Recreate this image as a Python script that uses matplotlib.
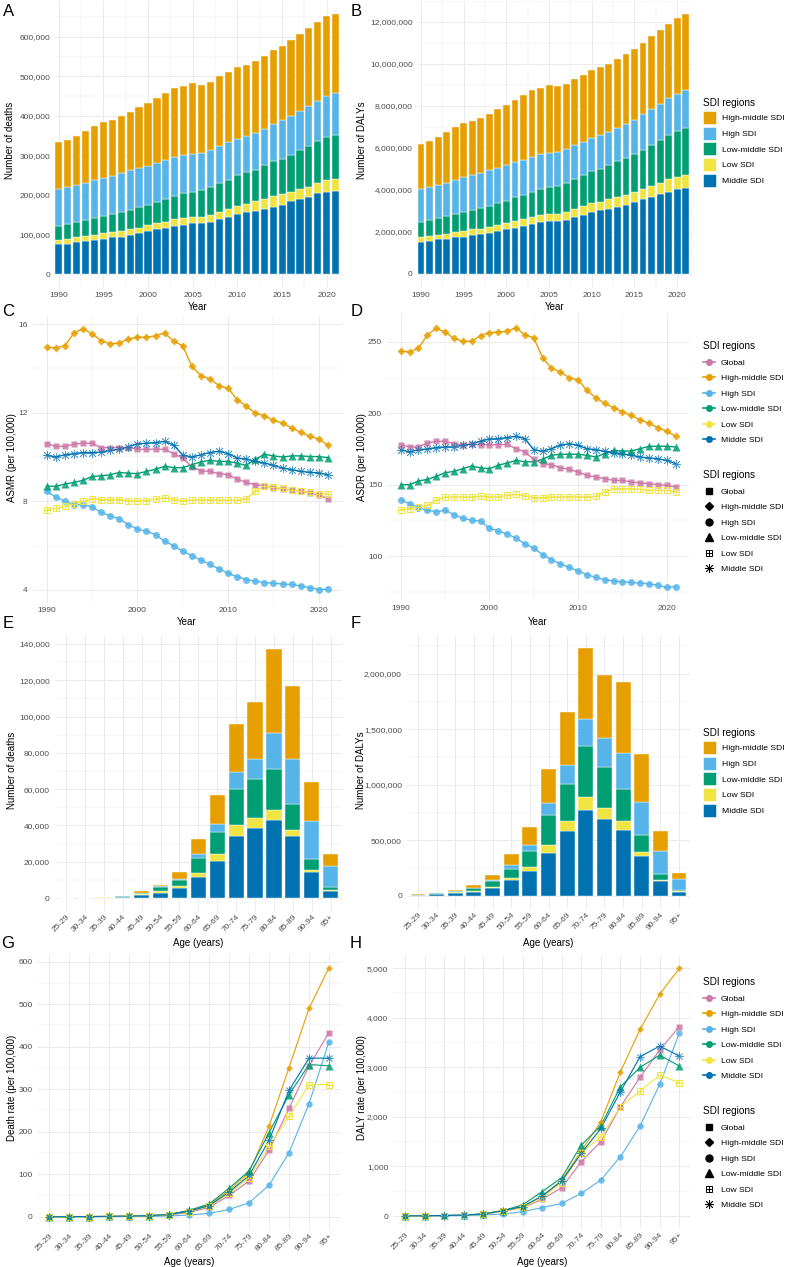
import numpy as np
import matplotlib.pyplot as plt
from matplotlib.lines import Line2D
from matplotlib.patches import Patch
from matplotlib.ticker import FuncFormatter, MultipleLocator

plt.rcParams['font.family'] = ['Liberation Sans', 'DejaVu Sans']

# ---------------- data ----------------
years = np.arange(1990, 2022)
ages = ['25-29', '30-34', '35-39', '40-44', '45-49', '50-54', '55-59', '60-64',
        '65-69', '70-74', '75-79', '80-84', '85-89', '90-94', '95+']

# A: deaths by year (thousands)
deaths_middle = [75, 77, 80, 83, 86, 89, 93, 94, 99, 103, 109, 113, 116, 121, 125, 128,
                 128, 132, 139, 145, 152, 157, 160, 165, 170, 175, 184, 190, 194, 204, 208, 211]
deaths_low = [11, 11, 13, 13, 13, 14, 13, 15, 14, 14, 14, 15, 16, 18, 18, 17,
              17, 18, 19, 19, 20, 21, 24, 25, 27, 27, 24, 25, 27, 27, 29, 29]
deaths_lowmid = [35, 38, 38, 41, 42, 44, 45, 48, 49, 52, 51, 54, 57, 58, 61, 63,
                 67, 69, 72, 75, 78, 79, 79, 86, 89, 90, 94, 99, 103, 105, 110, 111]
deaths_high = [94, 93, 94, 94, 96, 97, 98, 98, 100, 99, 100, 100, 100, 100, 98, 97,
               94, 94, 94, 95, 91, 92, 93, 91, 93, 97, 98, 98, 102, 102, 103, 106]
deaths_highmid = [118, 119, 124, 131, 138, 140, 141, 144, 147, 154, 158, 163, 169, 175, 175, 179,
                  173, 173, 176, 177, 184, 181, 182, 186, 187, 189, 192, 196, 197, 201, 202, 201]

# B: DALYs by year (millions)
dalys_middle = [1.52, 1.55, 1.65, 1.68, 1.74, 1.77, 1.84, 1.90, 1.97, 2.06, 2.16, 2.20, 2.27, 2.36, 2.47, 2.50,
                2.50, 2.57, 2.69, 2.81, 2.95, 3.03, 3.09, 3.19, 3.28, 3.42, 3.55, 3.65, 3.80, 3.91, 4.04, 4.10]
dalys_low = [0.22, 0.24, 0.20, 0.22, 0.24, 0.27, 0.28, 0.26, 0.28, 0.25, 0.26, 0.32, 0.33, 0.33, 0.34, 0.35,
             0.38, 0.38, 0.40, 0.42, 0.43, 0.42, 0.46, 0.47, 0.49, 0.48, 0.51, 0.55, 0.54, 0.59, 0.59, 0.61]
dalys_lowmid = [0.75, 0.78, 0.81, 0.86, 0.87, 0.91, 0.92, 0.98, 1.01, 1.05, 1.07, 1.13, 1.17, 1.21, 1.22, 1.27,
                1.32, 1.38, 1.43, 1.48, 1.52, 1.57, 1.63, 1.70, 1.76, 1.82, 1.84, 1.92, 2.03, 2.11, 2.17, 2.25]
dalys_high = [1.55, 1.57, 1.57, 1.57, 1.62, 1.65, 1.67, 1.65, 1.68, 1.70, 1.68, 1.66, 1.67, 1.69, 1.66, 1.65,
              1.62, 1.61, 1.60, 1.58, 1.58, 1.59, 1.59, 1.60, 1.63, 1.63, 1.71, 1.72, 1.74, 1.76, 1.79, 1.79]
dalys_highmid = [2.17, 2.17, 2.28, 2.44, 2.53, 2.58, 2.58, 2.64, 2.68, 2.78, 2.90, 2.99, 3.09, 3.19, 3.18, 3.25,
                 3.12, 3.13, 3.17, 3.19, 3.25, 3.26, 3.25, 3.29, 3.33, 3.38, 3.40, 3.48, 3.52, 3.55, 3.61, 3.64]

# C: ASMR
asmr_global = [10.6, 10.48, 10.48, 10.58, 10.62, 10.62, 10.42, 10.42, 10.42, 10.42, 10.35, 10.35, 10.35, 10.35, 10.15, 9.95,
               9.55, 9.38, 9.35, 9.25, 9.2, 9.0, 8.85, 8.75, 8.7, 8.62, 8.55, 8.5, 8.45, 8.38, 8.28, 8.12]
asmr_highmid = [14.95, 14.92, 15.02, 15.59, 15.79, 15.56, 15.25, 15.11, 15.14, 15.32, 15.41, 15.40, 15.47, 15.59, 15.22, 15.02,
                14.09, 13.67, 13.52, 13.22, 13.10, 12.59, 12.29, 11.98, 11.86, 11.65, 11.53, 11.31, 11.11, 10.93, 10.81, 10.53]
asmr_high = [8.45, 8.2, 8.0, 7.85, 7.85, 7.75, 7.5, 7.35, 7.2, 6.95, 6.75, 6.65, 6.5, 6.2, 6.0, 5.75,
             5.55, 5.35, 5.15, 4.95, 4.75, 4.6, 4.47, 4.4, 4.33, 4.3, 4.27, 4.25, 4.18, 4.1, 4.02, 4.03]
asmr_lowmid = [8.68, 8.68, 8.78, 8.85, 8.95, 9.12, 9.15, 9.2, 9.3, 9.27, 9.25, 9.35, 9.45, 9.58, 9.52, 9.52,
               9.65, 9.78, 9.85, 9.8, 9.8, 9.72, 9.62, 9.9, 10.12, 10.05, 10.0, 10.05, 10.05, 10.02, 10.02, 9.97]
asmr_low = [7.62, 7.68, 7.77, 7.9, 8.0, 8.12, 8.08, 8.08, 8.08, 8.02, 8.03, 8.03, 8.1, 8.15, 8.08, 8.03,
            8.05, 8.07, 8.07, 8.05, 8.05, 8.05, 8.12, 8.45, 8.68, 8.63, 8.58, 8.5, 8.45, 8.4, 8.35, 8.33]
asmr_middle = [10.08, 10.0, 10.1, 10.15, 10.2, 10.2, 10.22, 10.3, 10.35, 10.45, 10.6, 10.62, 10.65, 10.7, 10.54, 10.08,
               10.0, 10.1, 10.2, 10.26, 10.15, 9.95, 9.91, 9.8, 9.73, 9.62, 9.5, 9.43, 9.35, 9.31, 9.28, 9.2]

# D: ASDR
asdr_global = [178, 176.4, 176.4, 179.2, 180.4, 180.4, 178.7, 178, 178.3, 178, 178, 178, 178.3, 175.2, 173, 167.8,
               164.7, 164, 161.9, 160.7, 158.9, 156.5, 155.4, 154.2, 153, 153, 151.9, 151.2, 150.7, 150, 149.5, 148.4]
asdr_highmid = [243.5, 243, 245.5, 255, 259.5, 257, 252.5, 250.5, 250.5, 254.5, 256.5, 257, 257.5, 260, 255, 253,
                239, 231.5, 229, 225, 223.5, 216, 211, 207, 204, 201, 198.5, 195.5, 193, 190, 187.5, 184]
asdr_high = [139.5, 136.5, 134, 132, 131, 132, 129, 126.5, 125, 124.5, 119.5, 117.5, 115.5, 112.5, 108.5, 105.5,
             101, 97.5, 94.5, 92, 89.5, 87, 85, 83.5, 82.5, 82, 81.5, 81, 80.5, 79.5, 78, 78.5]
asdr_lowmid = [150, 150, 152.6, 153.7, 155.8, 158.4, 159.3, 161.2, 163.1, 161.7, 161.2, 163.6, 165.2, 167, 166, 166,
               167.8, 170.6, 171.3, 171.3, 171.3, 170.6, 169.4, 171.7, 174, 173.6, 173.6, 175.2, 176.9, 176.9, 176.9, 176.4]
asdr_low = [132.5, 133.2, 134.3, 135.5, 139, 141.4, 141.4, 141.4, 141.4, 142, 141.4, 141.4, 142.5, 143.2, 142.3, 140.9,
            140.9, 141.4, 141.4, 141.4, 141.4, 141.4, 141.8, 144.9, 147.2, 147.2, 147.2, 146.7, 146, 146, 146, 144.9]
asdr_middle = [174.5, 172.9, 174.5, 175, 176, 176.5, 176.5, 177.5, 178.5, 180.5, 182, 182.2, 183, 183.9, 182.2, 174.5,
               173.4, 175.2, 177.6, 178.7, 177.6, 175.2, 174.5, 173.4, 172.4, 171.7, 170.6, 169.4, 168.7, 168.2, 167, 164.7]

# E: deaths by age
age_deaths_middle = [20, 60, 250, 700, 1500, 3000, 5600, 11500, 20400, 34200, 38500, 43000, 34400, 14400, 3900]
age_deaths_low = [5, 10, 50, 100, 500, 900, 900, 2400, 3700, 5900, 5500, 5500, 3200, 1000, 400]
age_deaths_lowmid = [15, 40, 200, 300, 800, 2200, 3300, 8300, 12400, 20200, 21500, 22500, 14300, 6100, 1800]
age_deaths_high = [5, 15, 50, 50, 200, 600, 600, 2100, 4100, 9200, 11200, 19900, 24600, 20700, 11500]
age_deaths_highmid = [10, 30, 100, 200, 700, 700, 4000, 8300, 15900, 26500, 31300, 46500, 40100, 21500, 6500]

# F: DALYs by age (thousands)
age_dalys_middle = [6, 15, 30, 39, 68, 140, 229, 385, 586, 776, 692, 595, 364, 134, 36]
age_dalys_low = [4, 3, 3, 6, 12, 24, 36, 75, 91, 120, 99, 82, 36, 6, 6]
age_dalys_lowmid = [2, 6, 12, 23, 51, 83, 137, 270, 333, 451, 370, 288, 150, 59, 9]
age_dalys_high = [0.5, 1, 3, 6, 9, 36, 59, 106, 166, 247, 261, 322, 298, 203, 104]
age_dalys_highmid = [2.5, 5, 6, 21, 45, 92, 164, 307, 478, 640, 568, 637, 430, 187, 53]

# G: death rate by age
drate_global = [0.1, 0.2, 0.4, 0.7, 1.2, 2.0, 4.0, 10, 22, 50, 84, 157, 255, 355, 433]
drate_highmid = [0.1, 0.2, 0.4, 0.8, 1.4, 2.5, 5.5, 14, 28, 62, 104, 213, 351, 490, 586]
drate_high = [0.05, 0.1, 0.2, 0.3, 0.5, 0.9, 1.6, 4, 8, 17, 33, 74, 151, 266, 412]
drate_lowmid = [0.1, 0.2, 0.4, 0.8, 1.4, 2.5, 5.5, 15, 30, 67, 108, 198, 287, 358, 355]
drate_low = [0.1, 0.2, 0.4, 0.7, 1.2, 2.0, 4.5, 12, 25, 55, 92, 166, 236, 310, 311]
drate_middle = [0.1, 0.2, 0.4, 0.8, 1.4, 2.5, 5.0, 13, 26, 58, 97, 180, 297, 373, 373]

# H: DALY rate by age
dlrate_global = [3, 5, 9, 15, 38, 95, 165, 336, 571, 1095, 1499, 2204, 2796, 3347, 3817]
dlrate_highmid = [3, 5, 8, 15, 40, 107, 188, 390, 726, 1310, 1902, 2910, 3763, 4469, 4993]
dlrate_high = [2, 3, 5, 8, 20, 40, 87, 168, 255, 457, 726, 1196, 1815, 2655, 3683]
dlrate_lowmid = [4, 7, 12, 20, 45, 110, 222, 491, 773, 1431, 1821, 2608, 2997, 3246, 3024]
dlrate_low = [3, 5, 9, 15, 35, 95, 175, 370, 672, 1277, 1600, 2204, 2520, 2843, 2688]
dlrate_middle = [3, 6, 10, 17, 40, 105, 190, 403, 706, 1263, 1767, 2507, 3212, 3427, 3226]

# ---------------- style ----------------
colors = {'Global': '#CC79A7', 'High-middle SDI': '#E69F00', 'High SDI': '#56B4E9',
          'Low-middle SDI': '#009E73', 'Low SDI': '#F0E442', 'Middle SDI': '#0072B2'}
bar_order = ['Middle SDI', 'Low SDI', 'Low-middle SDI', 'High SDI', 'High-middle SDI']
line_order = ['Global', 'High-middle SDI', 'High SDI', 'Low-middle SDI', 'Low SDI', 'Middle SDI']
markers = {'Global': 's', 'High-middle SDI': 'D', 'High SDI': 'o',
           'Low-middle SDI': '^', 'Low SDI': 's', 'Middle SDI': (8, 2, 0)}
msize = {'Global': 1.0, 'High-middle SDI': 0.75, 'High SDI': 1.0,
         'Low-middle SDI': 1.1, 'Low SDI': 1.0, 'Middle SDI': 1.25}

GRID = '#EBEBEB'
TICK = '#4D4D4D'
W, H = 787, 1267
fig = plt.figure(figsize=(W / 100, H / 100), dpi=100)


def box(l, t, r, b):
    return [l / W, 1 - b / H, (r - l) / W, (b - t) / H]


def comma(v, pos):
    return f"{v:,.0f}"


def style(ax, ymaj, ymin, xmaj=None, xmin=None):
    ax.set_facecolor('white')
    for s in ax.spines.values():
        s.set_visible(False)
    ax.yaxis.set_major_locator(MultipleLocator(ymaj))
    ax.yaxis.set_minor_locator(MultipleLocator(ymin))
    if xmaj is not None:
        ax.xaxis.set_major_locator(MultipleLocator(xmaj))
        ax.xaxis.set_minor_locator(MultipleLocator(xmin))
    ax.grid(True, which='major', color=GRID, lw=0.7)
    ax.grid(True, which='minor', color=GRID, lw=0.35)
    ax.set_axisbelow(True)
    ax.tick_params(which='both', length=0, labelsize=6.0, labelcolor=TICK, pad=3.5)


def fig_text(x, y, s, **kw):
    fig.text(x / W, 1 - y / H, s, **kw)


def bars(ax, x, comps, scale):
    bottom = np.zeros(len(x))
    for name in bar_order:
        v = np.array(comps[name]) * scale
        ax.bar(x, v, bottom=bottom, width=0.8, color=colors[name],
               edgecolor='white', linewidth=0.3)
        bottom += v


def lines(ax, x, data, ms, lw):
    for name in line_order:
        c = colors[name]
        y = data[name]
        ax.plot(x, y, color=c, lw=lw, zorder=2)
        m = ms * msize[name]
        if name == 'Low SDI':
            ax.plot(x, y, ls='none', marker='s', ms=m, mfc='none', mec=c, mew=0.7, zorder=3)
            ax.plot(x, y, ls='none', marker='+', ms=m, mec=c, mew=0.7, zorder=3)
        elif name == 'Middle SDI':
            ax.plot(x, y, ls='none', marker=markers[name], ms=m, mec=c, mew=0.6, alpha=0.7, zorder=3)
        else:
            ax.plot(x, y, ls='none', marker=markers[name], ms=m, color=c, mec='none', alpha=0.85, zorder=3)


def bar_legend(y):
    handles = [Patch(facecolor=colors[n], edgecolor='white', linewidth=0.4) for n in bar_order[::-1]]
    fig.legend(handles, bar_order[::-1], title='SDI regions', loc='upper left',
               bbox_to_anchor=(703 / W, 1 - y / H), frameon=False, fontsize=6.1,
               title_fontsize=7.2, alignment='left', handlelength=1.55, handleheight=2.0,
               handletextpad=0.7, labelspacing=0.32, borderpad=0, borderaxespad=0)


def line_legends(y1, y2):
    h1 = [Line2D([], [], color=colors[n], lw=1.2, marker='o', ms=4) for n in line_order]
    fig.legend(h1, line_order, title='SDI regions', loc='upper left',
               bbox_to_anchor=(703 / W, 1 - y1 / H), frameon=False, fontsize=6.1,
               title_fontsize=7.2, alignment='left', handlelength=1.4,
               handletextpad=0.7, labelspacing=0.9, borderpad=0, borderaxespad=0)
    h2 = []
    for n in line_order:
        if n == 'Low SDI':
            h2.append((Line2D([], [], ls='none', marker='s', ms=5, mfc='none', mec='black', mew=0.7),
                       Line2D([], [], ls='none', marker='+', ms=5, mec='black', mew=0.7)))
        elif n == 'Middle SDI':
            h2.append(Line2D([], [], ls='none', marker=markers[n], ms=6.5, mec='black', mew=0.6))
        else:
            h2.append(Line2D([], [], ls='none', marker=markers[n], ms=5 * msize[n], color='black'))
    fig.legend(h2, line_order, title='SDI regions', loc='upper left',
               bbox_to_anchor=(703 / W, 1 - y2 / H), frameon=False, fontsize=6.1,
               title_fontsize=7.2, alignment='left', handlelength=1.4,
               handletextpad=0.7, labelspacing=0.9, borderpad=0, borderaxespad=0)


# ---------------- A ----------------
axA = fig.add_axes(box(55, 1, 342, 287))
bars(axA, years, {'Middle SDI': deaths_middle, 'Low SDI': deaths_low, 'Low-middle SDI': deaths_lowmid,
                  'High SDI': deaths_high, 'High-middle SDI': deaths_highmid}, 1000)
style(axA, 100000, 50000, 5, 2.5)
axA.set_xlim(1989.6, 2021.7)
axA.set_ylim(-32900, 691000)
axA.yaxis.set_major_formatter(FuncFormatter(comma))
fig_text(10, 140, 'Number of deaths', rotation=90, ha='center', va='center', fontsize=7)
fig_text(198, 307, 'Year', ha='center', va='center', fontsize=7)

# ---------------- B ----------------
axB = fig.add_axes(box(417.6, 1, 691.7, 287))
bars(axB, years, {'Middle SDI': dalys_middle, 'Low SDI': dalys_low, 'Low-middle SDI': dalys_lowmid,
                  'High SDI': dalys_high, 'High-middle SDI': dalys_highmid}, 1e6)
style(axB, 2e6, 1e6, 5, 2.5)
axB.set_xlim(1989.6, 2021.7)
axB.set_ylim(-620000, 13000000)
axB.yaxis.set_major_formatter(FuncFormatter(comma))
fig_text(362, 140, 'Number of DALYs', rotation=90, ha='center', va='center', fontsize=7)
fig_text(555, 307, 'Year', ha='center', va='center', fontsize=7)
bar_legend(98)

# ---------------- C ----------------
axC = fig.add_axes(box(32.6, 315.6, 342, 602.6))
lines(axC, years, {'Global': asmr_global, 'High-middle SDI': asmr_highmid, 'High SDI': asmr_high,
                   'Low-middle SDI': asmr_lowmid, 'Low SDI': asmr_low, 'Middle SDI': asmr_middle}, 5, 1.0)
style(axC, 4, 2, 10, 5)
axC.set_xlim(1988.45, 2022.55)
axC.set_ylim(3.43, 16.38)
fig_text(12, 458, 'ASMR (per 100,000)', rotation=90, ha='center', va='center', fontsize=7)
fig_text(187, 622, 'Year', ha='center', va='center', fontsize=7)

# ---------------- D ----------------
axD = fig.add_axes(box(387, 314, 689.3, 600.4))
lines(axD, years, {'Global': asdr_global, 'High-middle SDI': asdr_highmid, 'High SDI': asdr_high,
                   'Low-middle SDI': asdr_lowmid, 'Low SDI': asdr_low, 'Middle SDI': asdr_middle}, 5, 1.0)
style(axD, 50, 25, 10, 5)
axD.set_xlim(1988.45, 2022.55)
axD.set_ylim(68.9, 269.6)
fig_text(362, 457, 'ASDR (per 100,000)', rotation=90, ha='center', va='center', fontsize=7)
fig_text(538, 622, 'Year', ha='center', va='center', fontsize=7)
line_legends(341, 470)

xa = np.arange(len(ages))

# ---------------- E ----------------
axE = fig.add_axes(box(54.7, 636.2, 342, 910.5))
bars(axE, xa, {'Middle SDI': age_deaths_middle, 'Low SDI': age_deaths_low, 'Low-middle SDI': age_deaths_lowmid,
               'High SDI': age_deaths_high, 'High-middle SDI': age_deaths_highmid}, 1)
style(axE, 20000, 10000)
axE.set_xticks(xa)
axE.set_xticklabels(ages, rotation=45, ha='right', rotation_mode='anchor')
axE.set_xlim(-0.6, 14.6)
axE.set_ylim(-6870, 144270)
axE.yaxis.set_major_formatter(FuncFormatter(comma))
fig_text(12, 770, 'Number of deaths', rotation=90, ha='center', va='center', fontsize=7)
fig_text(198, 943, 'Age (years)', ha='center', va='center', fontsize=7)

# ---------------- F ----------------
axF = fig.add_axes(box(406.8, 635.6, 690.2, 908.4))
bars(axF, xa, {'Middle SDI': age_dalys_middle, 'Low SDI': age_dalys_low, 'Low-middle SDI': age_dalys_lowmid,
               'High SDI': age_dalys_high, 'High-middle SDI': age_dalys_highmid}, 1000)
style(axF, 500000, 250000)
axF.set_xticks(xa)
axF.set_xticklabels(ages, rotation=45, ha='right', rotation_mode='anchor')
axF.set_xlim(-0.6, 14.6)
axF.set_ylim(-111700, 2345700)
axF.yaxis.set_major_formatter(FuncFormatter(comma))
fig_text(361, 770, 'Number of DALYs', rotation=90, ha='center', va='center', fontsize=7)
fig_text(548, 943, 'Age (years)', ha='center', va='center', fontsize=7)
bar_legend(728)

# ---------------- G ----------------
axG = fig.add_axes(box(37.3, 954.7, 341, 1229.2))
lines(axG, xa, {'Global': drate_global, 'High-middle SDI': drate_highmid, 'High SDI': drate_high,
                'Low-middle SDI': drate_lowmid, 'Low SDI': drate_low, 'Middle SDI': drate_middle}, 4.6, 0.8)
style(axG, 100, 50)
axG.set_xticks(xa)
axG.set_xticklabels(ages, rotation=45, ha='right', rotation_mode='anchor')
axG.set_xlim(-0.6, 14.6)
axG.set_ylim(-29.35, 616.35)
fig_text(12, 1088, 'Death rate (per 100,000)', rotation=90, ha='center', va='center', fontsize=7)
fig_text(189, 1262, 'Age (years)', ha='center', va='center', fontsize=7)

# ---------------- H ----------------
axH = fig.add_axes(box(393.2, 956, 691, 1228.4))
lines(axH, xa, {'Global': dlrate_global, 'High-middle SDI': dlrate_highmid, 'High SDI': dlrate_high,
                'Low-middle SDI': dlrate_lowmid, 'Low SDI': dlrate_low, 'Middle SDI': dlrate_middle}, 4.6, 0.8)
style(axH, 1000, 500)
axH.set_xticks(xa)
axH.set_xticklabels(ages, rotation=45, ha='right', rotation_mode='anchor')
axH.set_xlim(-0.6, 14.6)
axH.set_ylim(-250, 5243)
axH.yaxis.set_major_formatter(FuncFormatter(comma))
fig_text(362, 1088, 'DALY rate (per 100,000)', rotation=90, ha='center', va='center', fontsize=7)
fig_text(542, 1262, 'Age (years)', ha='center', va='center', fontsize=7)
line_legends(977, 1106)

for ax in (axE, axF, axG, axH):
    ax.xaxis.set_minor_locator(plt.NullLocator())
    ax.tick_params(axis='x', pad=2)

for lab, x, y in [('A', 9, 11), ('B', 356, 11), ('C', 8, 311), ('D', 357, 311),
                  ('E', 8, 623), ('F', 356, 623), ('G', 8, 944), ('H', 356, 944)]:
    fig_text(x, y, lab, ha='center', va='center', fontsize=12)

fig.savefig('out.png', dpi=100, facecolor='white')
